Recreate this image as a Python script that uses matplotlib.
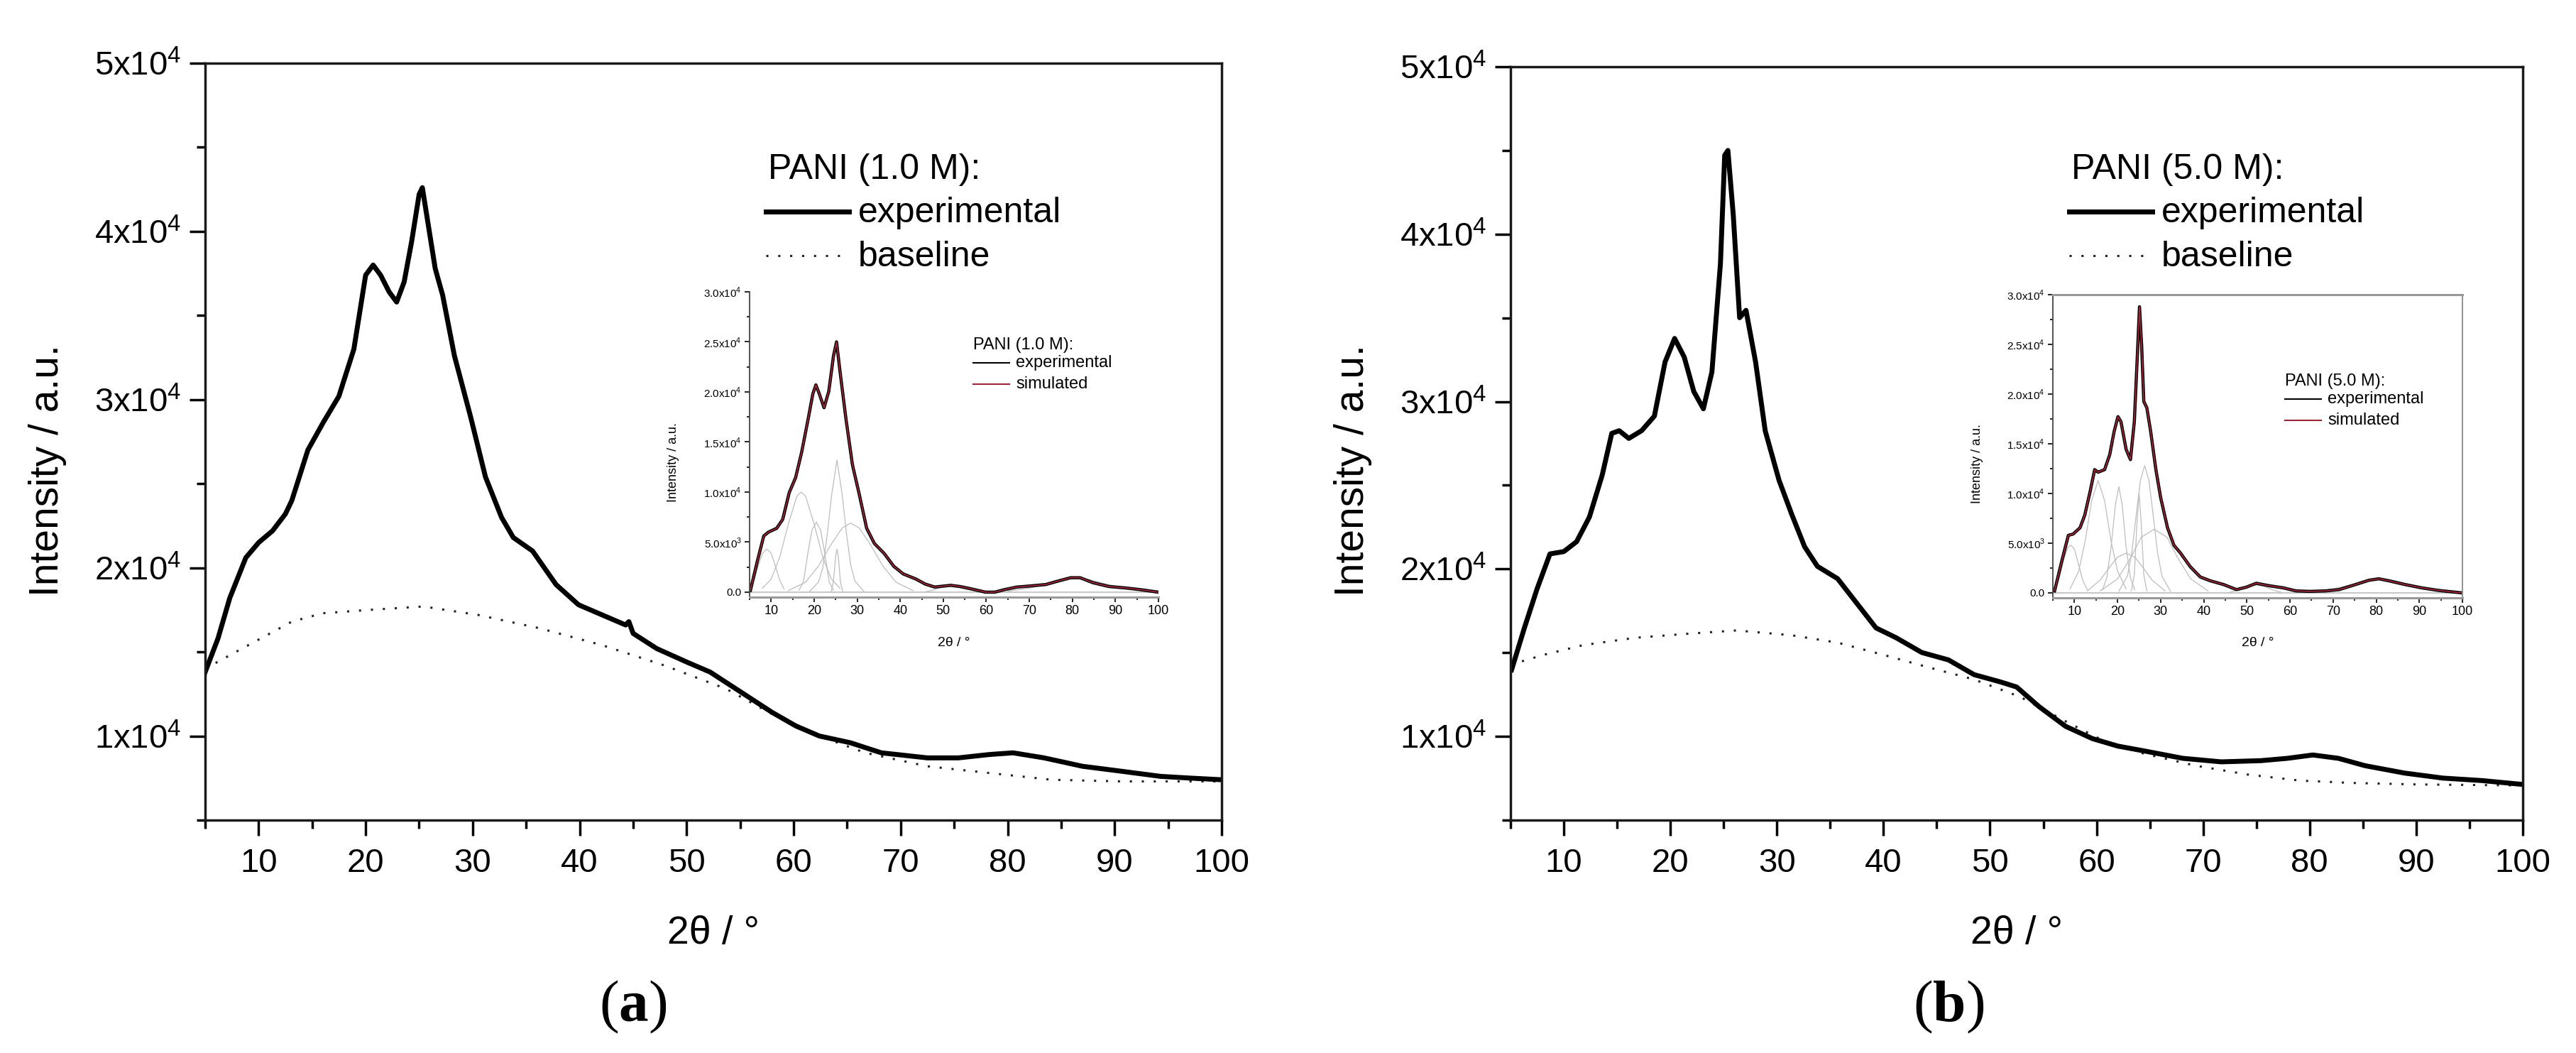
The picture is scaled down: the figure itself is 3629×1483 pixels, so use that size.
import matplotlib
matplotlib.use("Agg")
import matplotlib.pyplot as plt
from matplotlib.lines import Line2D
from matplotlib.ticker import MultipleLocator

plt.rcParams['font.family'] = ['Liberation Sans', 'DejaVu Sans']
plt.rcParams['mathtext.fontset'] = 'custom'
plt.rcParams['mathtext.rm'] = 'Liberation Sans'
plt.rcParams['mathtext.bf'] = 'Liberation Serif:bold'

W, H = 3630, 1483

# ---- main panel (a): PANI 1.0 M ----
tt_a = [5, 6.2, 7.3, 8.8, 10, 11.3, 12.5, 13.1, 14.6, 16, 17.5, 18.9, 20, 20.7, 21.4,
        22.2, 22.9, 23.6, 24.3, 25, 25.3, 25.8, 26.5, 27.2, 28.3, 29.8, 31.2, 32.7,
        33.8, 35.6, 37.8, 39.9, 42.1, 44.3, 44.6, 45, 47.2, 50, 52.2, 55.1, 58, 60.2,
        62.4, 65.3, 68.2, 72.5, 75.4, 78.3, 80.5, 83.4, 87, 90.7, 94.3, 97, 100]
exp_a = [13800, 15800, 18200, 20600, 21500, 22200, 23200, 24000, 27000, 28600, 30200,
         33000, 37400, 38000, 37400, 36400, 35800, 37000, 39400, 42200, 42600, 40600,
         37800, 36200, 32600, 29000, 25400, 23000, 21800, 21000, 19000, 17800, 17200,
         16600, 16800, 16100, 15200, 14400, 13800, 12600, 11400, 10600, 10000, 9600,
         9000, 8700, 8700, 8900, 9000, 8700, 8200, 7900, 7600, 7500, 7400]
bt_a = [5, 7.3, 10.2, 13.1, 16, 20.4, 25.4, 30.5, 36.3, 42.1, 47.9, 53.7, 58, 62.4,
        66.7, 72.5, 78.3, 84.1, 90.7, 100]
base_a = [14000, 14800, 15800, 16800, 17300, 17500, 17700, 17200, 16400, 15400, 14200,
          12800, 11300, 10000, 9000, 8200, 7800, 7400, 7300, 7300]

# ---- main panel (b): PANI 5.0 M ----
tt_b = [5.1, 6.3, 7.5, 8.7, 10, 11.2, 12.4, 13.6, 14.5, 15.2, 16.1, 17.3, 18.5, 19.5,
        20.4, 21.3, 22.2, 23.1, 23.9, 24.7, 25.1, 25.4, 25.9, 26.5, 27.1, 28, 28.9,
        30.2, 31.4, 32.6, 33.8, 35.7, 37.5, 39.3, 41.2, 43.6, 46.1, 48.5, 51, 52.5,
        54.6, 57.1, 59.6, 62, 64.4, 68.1, 71.7, 75.4, 77.9, 80.3, 82.7, 85.2, 88.9,
        92.5, 96.2, 100]
exp_b = [13980, 16480, 18830, 20900, 21040, 21630, 23100, 25600, 28100, 28260, 27800,
         28260, 29130, 32360, 33770, 32660, 30600, 29570, 31770, 38240, 44710, 45000,
         41180, 35010, 35450, 32360, 28260, 25300, 23250, 21330, 20160, 19420, 17950,
         16480, 15890, 15010, 14570, 13690, 13250, 12950, 11780, 10600, 9870, 9420,
         9140, 8690, 8480, 8550, 8690, 8890, 8690, 8250, 7810, 7510, 7360, 7130]
bt_b = [5, 8.1, 11.8, 16.7, 21.6, 26.2, 31.4, 35.7, 40, 44.2, 48.5, 52.8, 57.1, 60.7,
        64.4, 69.3, 74.2, 79.1, 84, 90.1, 100]
base_b = [14280, 14870, 15450, 15890, 16130, 16330, 16040, 15600, 14870, 14130, 13400,
          12370, 10900, 9720, 8980, 8250, 7720, 7360, 7220, 7130, 7070]

# ---- inset (a): background-subtracted pattern and fitted peaks ----
it_a = [5.2, 6.8, 8.3, 9.4, 11.3, 12.7, 14.2, 15.7, 17.1, 18.6, 19.7, 20.4, 21.2, 22.3,
        23.4, 24.5, 25.2, 26, 27.4, 28.9, 30.4, 32.2, 34, 36.3, 38.5, 40.7, 43.6, 45.8,
        48, 51.7, 53.9, 56.8, 59.8, 62, 64.2, 67.1, 70, 73.8, 76.7, 79.6, 81.8, 84.8,
        88.5, 92.1, 95.8, 99.9]
iexp_a = [180, 3090, 5620, 6000, 6380, 7270, 9930, 11450, 13980, 17280, 19810, 20700,
          19810, 18420, 20060, 23610, 25000, 22090, 17280, 12720, 9930, 6380, 4860, 3850,
          2580, 1820, 1320, 810, 510, 680, 560, 300, 0, 0, 250, 510, 610, 760, 1110, 1440,
          1440, 940, 560, 430, 250, 0]
isim_a = iexp_a  # fit lies on top of the data
peaks_a = [
    ([5, 6, 7, 8, 9, 10, 11, 12, 13], [300, 1200, 2600, 3900, 4300, 3900, 2600, 1200, 300]),
    ([8, 10, 12, 14, 16, 17, 18, 20, 22, 24, 26],
     [400, 1300, 3500, 6800, 9600, 10000, 9600, 6800, 3500, 1300, 400]),
    ([16.5, 17.5, 18.5, 19.5, 20.5, 21.5, 22.5, 23.5, 24.5],
     [200, 1000, 3800, 6200, 7000, 6200, 3800, 1000, 200]),
    ([19, 21, 22, 23, 24, 25.3, 26.5, 27.5, 28.5, 29.5, 31.5],
     [100, 1000, 2400, 5600, 9500, 13200, 9800, 5900, 2700, 1100, 100]),
    ([24, 24.5, 25, 25.3, 25.6, 26.1, 26.6], [100, 1100, 3600, 4300, 3600, 1100, 100]),
    ([14, 18, 21, 24, 26.5, 28.5, 30.5, 33, 36, 39, 43],
     [150, 1000, 2600, 4800, 6400, 6900, 6400, 4800, 2600, 1000, 150]),
    ([46, 48, 50, 52, 54, 56, 58], [50, 250, 550, 700, 550, 250, 50]),
    ([65, 70, 75, 78, 81, 84, 87, 92, 97], [100, 400, 900, 1250, 1400, 1250, 900, 400, 100]),
]

# ---- inset (b) ----
it_b = [5.4, 7.1, 8.6, 9.7, 11.3, 12.4, 13.6, 14.7, 15.5, 17, 18.2, 19.2, 20.1, 20.8, 22,
        23, 23.9, 24.7, 25.1, 25.6, 26.1, 26.8, 27.7, 28.9, 30, 31.6, 33.1, 34.6, 36.9,
        39.2, 41.5, 44.6, 47.6, 49.9, 52.2, 55.3, 58.4, 61.4, 64.5, 68.3, 71.4, 75.2,
        78.3, 80.6, 82.9, 86.7, 90.5, 94.4, 99.9]
iexp_b = [200, 3250, 5790, 5920, 6550, 7820, 10110, 12400, 12140, 12400, 13920, 16210,
          17730, 17220, 14430, 13410, 17220, 24840, 28780, 24840, 19250, 18620, 16210,
          12400, 9600, 6550, 4780, 4010, 2620, 1600, 1220, 840, 330, 580, 970, 710, 510,
          200, 150, 200, 330, 840, 1270, 1420, 1220, 840, 510, 250, 0]
isim_b = iexp_b
peaks_b = [
    ([5.5, 6.5, 7.5, 8.5, 9.2, 10, 11, 12, 13], [400, 1500, 3300, 4600, 4800, 4400, 2800, 1200, 300]),
    ([9, 11, 12.5, 14, 15.5, 17, 18.5, 20, 22], [400, 2200, 5200, 9300, 11300, 9300, 5200, 2200, 400]),
    ([16.5, 17.5, 18.5, 19.5, 20.3, 21.1, 22, 23, 24], [300, 1500, 4600, 8800, 10700, 8800, 4600, 1500, 300]),
    ([13, 16, 18, 20, 22, 24, 26, 28, 31], [200, 1300, 2500, 3600, 4000, 3600, 2500, 1300, 200]),
    ([23.2, 23.9, 24.5, 25, 25.5, 26.1, 26.8], [200, 1800, 7000, 10000, 7000, 1800, 200]),
    ([20.3, 22.3, 23.3, 24.3, 25.3, 26.3, 27.3, 28.3, 29.3, 30.3, 32.3],
     [150, 1700, 4000, 7700, 11300, 12800, 11300, 7700, 4000, 1700, 150]),
    ([16, 20, 23, 25.5, 28.5, 31.5, 34, 37, 41], [200, 1400, 3500, 5600, 6400, 5600, 3500, 1400, 200]),
    ([46, 48, 50, 52, 54, 56, 58], [50, 300, 650, 800, 650, 300, 50]),
    ([65, 70, 75, 78, 81, 84, 87, 92, 97], [100, 400, 900, 1250, 1400, 1250, 900, 400, 100]),
]

main_yticks = [10000, 20000, 30000, 40000, 50000]
main_ylabels = ['1x10$^4$', '2x10$^4$', '3x10$^4$', '4x10$^4$', '5x10$^4$']
ins_yticks = [0, 5000, 10000, 15000, 20000, 25000, 30000]
ins_ylabels = ['0.0', '5.0x10$^3$', '1.0x10$^4$', '1.5x10$^4$', '2.0x10$^4$',
               '2.5x10$^4$', '3.0x10$^4$']
xticks = [10, 20, 30, 40, 50, 60, 70, 80, 90, 100]

SIM_RED = '#9a2638'


def fx(x):
    return x / W


def fy(y):
    return 1 - y / H


def box(l, t, r, b):
    return [fx(l), fy(b), fx(r) - fx(l), fy(t) - fy(b)]


def main_panel(fig, rect, tt, ex, bt, bl, name, leg_x, tag_x):
    ax = fig.add_axes(rect)
    ax.plot(bt, bl, color='#222222', lw=2.2, ls=(0, (1, 4.5)))
    ax.plot(tt, ex, color='black', lw=5)
    ax.set_xlim(5, 100)
    ax.set_ylim(5000, 50000)
    ax.set_xticks(xticks)
    ax.xaxis.set_minor_locator(MultipleLocator(5))
    ax.set_yticks(main_yticks)
    ax.set_yticklabels(main_ylabels)
    ax.yaxis.set_minor_locator(MultipleLocator(5000))
    ax.tick_params(which='both', direction='out', width=2.5, labelsize=34,
                   top=False, right=False)
    ax.tick_params(which='major', length=16)
    ax.tick_params(which='minor', length=8.5)
    ax.tick_params(axis='x', pad=12)
    ax.tick_params(axis='y', pad=8)
    for s in ax.spines.values():
        s.set_linewidth(2.5)
        s.set_color('#1a1a1a')
    pos = ax.get_position()
    l = pos.x0 * W
    r = pos.x1 * W
    fig.text(fx(l - 222), fy(663), 'Intensity / a.u.', rotation=90, fontsize=41,
             ha='center', va='center')
    fig.text(fx((l + r) / 2), fy(1315), '2θ / °', fontsize=40, ha='center', va='center')
    fig.text(fx(tag_x), fy(1418), '($\\mathbf{' + name[0] + '}$)', fontsize=60,
             family='Liberation Serif', ha='center', va='center')
    # legend
    fig.text(fx(leg_x + 3), fy(252), name[1], fontsize=36, va='baseline')
    fig.add_artist(Line2D([fx(leg_x), fx(leg_x + 117)], [fy(298), fy(298)],
                          color='black', lw=5, transform=fig.transFigure))
    fig.add_artist(Line2D([fx(leg_x), fx(leg_x + 117)], [fy(360), fy(360)],
                          color='#222222', lw=2.2, ls=(0, (1, 4.5)),
                          transform=fig.transFigure))
    fig.text(fx(leg_x + 130), fy(313), 'experimental', fontsize=36, va='baseline')
    fig.text(fx(leg_x + 130), fy(375), 'baseline', fontsize=36, va='baseline')
    return ax


def inset(fig, rect, tt, ex, sim, peaks, name, full_box, leg_x, leg_y):
    ax = fig.add_axes(rect)
    ax.axhline(0, color='#c8c8c8', lw=1.5)
    for px, py in peaks:
        ax.plot(px, py, color='#bdbdbd', lw=0.9)
    ax.plot(tt, ex, color='black', lw=3.2)
    ax.plot(tt, sim, color=SIM_RED, lw=1.3)
    ax.set_xlim(5, 100)
    ax.set_ylim(-500, 30000)
    ax.set_xticks(xticks)
    ax.xaxis.set_minor_locator(MultipleLocator(5))
    ax.set_yticks(ins_yticks)
    ax.set_yticklabels(ins_ylabels)
    ax.yaxis.set_minor_locator(MultipleLocator(2500))
    ax.tick_params(which='both', direction='out', width=1.2, labelsize=13,
                   top=False, right=False, pad=3)
    ax.tick_params(which='major', length=5)
    ax.tick_params(which='minor', length=3)
    ax.tick_params(axis='y', labelsize=11)
    for s in ax.spines.values():
        s.set_linewidth(1.3)
        s.set_color('#444444')
    ax.spines['bottom'].set_color('#999999')
    ax.spines['bottom'].set_linewidth(2.2)
    if full_box:
        ax.spines['top'].set_color('#999999')
        ax.spines['top'].set_linewidth(2.2)
        ax.spines['right'].set_color('#888888')
    else:
        ax.spines['top'].set_visible(False)
        ax.spines['right'].set_visible(False)
    pos = ax.get_position()
    l = pos.x0 * W
    r = pos.x1 * W
    t = (1 - pos.y1) * H
    b = (1 - pos.y0) * H
    fig.text(fx(l - 107), fy((t + b) / 2 + 25), 'Intensity / a.u.', rotation=90,
             fontsize=13, ha='center', va='center')
    fig.text(fx((l + r) / 2), fy(905), '2θ / °', fontsize=14, ha='center', va='center')
    # legend
    fig.text(fx(leg_x), fy(leg_y), name, fontsize=17, va='baseline')
    fig.add_artist(Line2D([fx(leg_x), fx(leg_x + 51)], [fy(leg_y + 19), fy(leg_y + 19)],
                          color='black', lw=1.5, transform=fig.transFigure))
    fig.add_artist(Line2D([fx(leg_x), fx(leg_x + 51)], [fy(leg_y + 49), fy(leg_y + 49)],
                          color=SIM_RED, lw=1.5, transform=fig.transFigure))
    fig.text(fx(leg_x + 60), fy(leg_y + 25), 'experimental', fontsize=17, va='baseline')
    fig.text(fx(leg_x + 60), fy(leg_y + 55), 'simulated', fontsize=17, va='baseline')
    return ax


fig = plt.figure(figsize=(W / 100, H / 100), dpi=100, facecolor='white')

main_panel(fig, box(289, 89, 1721, 1155), tt_a, exp_a, bt_a, base_a,
           ('a', 'PANI (1.0 M):'), 1079, 892)
main_panel(fig, box(2128, 94, 3554, 1155), tt_b, exp_b, bt_b, base_b,
           ('b', 'PANI (5.0 M):'), 2915, 2745)

inset(fig, box(1056, 411, 1632, 841), it_a, iexp_a, isim_a, peaks_a,
      'PANI (1.0 M):', False, 1371, 492)
inset(fig, box(2892, 415, 3469, 842), it_b, iexp_b, isim_b, peaks_b,
      'PANI (5.0 M):', True, 3219, 543)

fig.savefig('out.png', dpi=100, facecolor='white')
